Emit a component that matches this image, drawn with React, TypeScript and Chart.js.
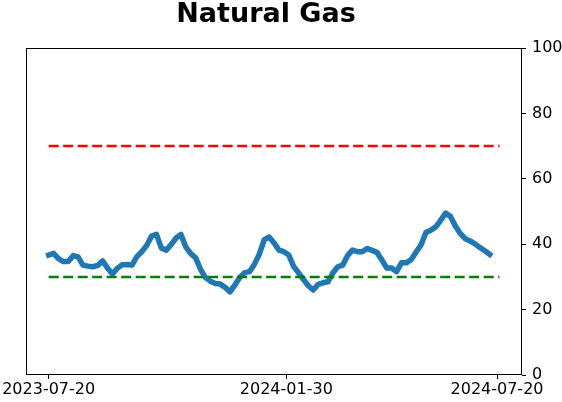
import React, { useEffect, useRef } from "react";
import { Chart, registerables } from "chart.js";

Chart.register(...registerables);

const chartTitle = "Natural Gas";
const startDate = "2023-07-20";
const stepDays = 4;
const refEndDate = "2024-07-22";
const upperLevel = 70;
const lowerLevel = 30;
const tickDates = ["2023-07-20", "2024-01-30", "2024-07-20"];
const yTicks = [0, 20, 40, 60, 80, 100];

const gasValues = [
  36.7, 37.2, 35.6, 34.7, 34.7, 36.5, 36.1, 33.6, 33.3, 33.1,
  33.5, 34.9, 32.7, 30.9, 32.6, 33.7, 33.8, 33.6, 36.2, 37.7,
  39.6, 42.5, 43.0, 38.8, 38.2, 39.9, 41.9, 43.0, 39.1, 37.1,
  35.8, 32.3, 29.8, 28.7, 28.0, 27.8, 26.8, 25.4, 27.5, 29.8,
  31.3, 31.6, 33.9, 37.0, 41.4, 42.2, 40.4, 38.2, 37.7, 36.7,
  33.2, 31.2, 29.2, 27.3, 26.0, 27.7, 28.2, 28.5, 31.2, 33.1,
  33.6, 36.5, 38.2, 37.7, 37.7, 38.7, 38.1, 37.5, 35.2, 32.7,
  32.7, 31.6, 34.3, 34.3, 35.3, 37.6, 39.8, 43.6, 44.3, 45.3,
  47.3, 49.5, 48.5, 45.6, 43.3, 41.7, 41.0, 40.1, 39.0, 38.0,
  36.9,
];

const DAY = 86400000;
const dayOf = (d: string) => Math.round((Date.parse(d) - Date.parse(startDate)) / DAY);

export default function App() {
  const ref = useRef<HTMLCanvasElement | null>(null);

  useEffect(() => {
    if (!ref.current) return;
    const refEnd = dayOf(refEndDate);
    const span = refEnd - 0;
    const xMin = -0.05 * span;
    const xMax = refEnd + 0.05 * span;
    const tickDays = tickDates.map(dayOf);

    const frameAndTitle = {
      id: "frameAndTitle",
      afterDraw(chart: any) {
        const { ctx, chartArea } = chart;
        ctx.save();
        ctx.strokeStyle = "#000";
        ctx.lineWidth = 1;
        ctx.strokeRect(
          Math.round(chartArea.left) + 0.5,
          Math.round(chartArea.top) + 0.5,
          Math.round(chartArea.right - chartArea.left) - 1,
          Math.round(chartArea.bottom - chartArea.top) - 1
        );
        ctx.fillStyle = "#000";
        ctx.font = "bold 27px 'DejaVu Sans'";
        ctx.textAlign = "center";
        ctx.textBaseline = "alphabetic";
        ctx.fillText(chartTitle, 266, 22);
        ctx.restore();
      },
    };

    const chart = new Chart(ref.current, {
      type: "line",
      data: {
        datasets: [
          {
            data: [
              { x: 0, y: upperLevel },
              { x: refEnd, y: upperLevel },
            ],
            borderColor: "#ff0000",
            borderWidth: 2.5,
            borderDash: [10, 4.5],
            pointRadius: 0,
            order: 0,
          },
          {
            data: [
              { x: 0, y: lowerLevel },
              { x: refEnd, y: lowerLevel },
            ],
            borderColor: "#008000",
            borderWidth: 2.5,
            borderDash: [10, 4.5],
            pointRadius: 0,
            order: 0,
          },
          {
            data: gasValues.map((v, i) => ({ x: i * stepDays, y: v })),
            borderColor: "#1f77b4",
            borderWidth: 5.5,
            pointRadius: 0,
            tension: 0,
            borderJoinStyle: "round",
            borderCapStyle: "square",
            order: 1,
          },
        ],
      } as any,
      options: {
        animation: false,
        responsive: false,
        devicePixelRatio: 1,
        layout: { padding: { left: 26, top: 48, right: 0, bottom: 0 } },
        plugins: {
          legend: { display: false },
          title: { display: false },
          tooltip: { enabled: false },
        },
        scales: {
          x: {
            type: "linear",
            min: xMin,
            max: xMax,
            position: "bottom",
            border: { display: false },
            grid: {
              display: true,
              drawOnChartArea: false,
              drawTicks: true,
              tickLength: 4,
              color: "#000",
            },
            ticks: {
              color: "#000",
              font: { size: 16, family: "'DejaVu Sans'" },
              padding: 1,
              maxRotation: 0,
              autoSkip: false,
              callback: (v: any) => {
                const i = tickDays.indexOf(Number(v));
                return i >= 0 ? tickDates[i] : "";
              },
            },
            afterBuildTicks: (scale: any) => {
              scale.ticks = tickDays.map((d) => ({ value: d }));
            },
            afterFit: (scale: any) => {
              scale.height = 27;
            },
          },
          y: {
            type: "linear",
            position: "right",
            min: 0,
            max: 100,
            border: { display: false },
            grid: {
              display: true,
              drawOnChartArea: false,
              drawTicks: true,
              tickLength: 4,
              color: "#000",
            },
            ticks: {
              color: "#000",
              font: { size: 16, family: "'DejaVu Sans'" },
              padding: 6,
              stepSize: 20,
            },
            afterBuildTicks: (scale: any) => {
              scale.ticks = yTicks.map((v) => ({ value: v }));
            },
            afterFit: (scale: any) => {
              scale.width = 40;
            },
          },
        },
      } as any,
      plugins: [frameAndTitle],
    });
    return () => chart.destroy();
  }, []);

  return (
    <div style={{ position: "fixed", left: 0, top: 0, width: 562, height: 402, background: "#fff" }}>
      <canvas ref={ref} width={562} height={402} style={{ display: "block", width: 562, height: 402 }} />
    </div>
  );
}
